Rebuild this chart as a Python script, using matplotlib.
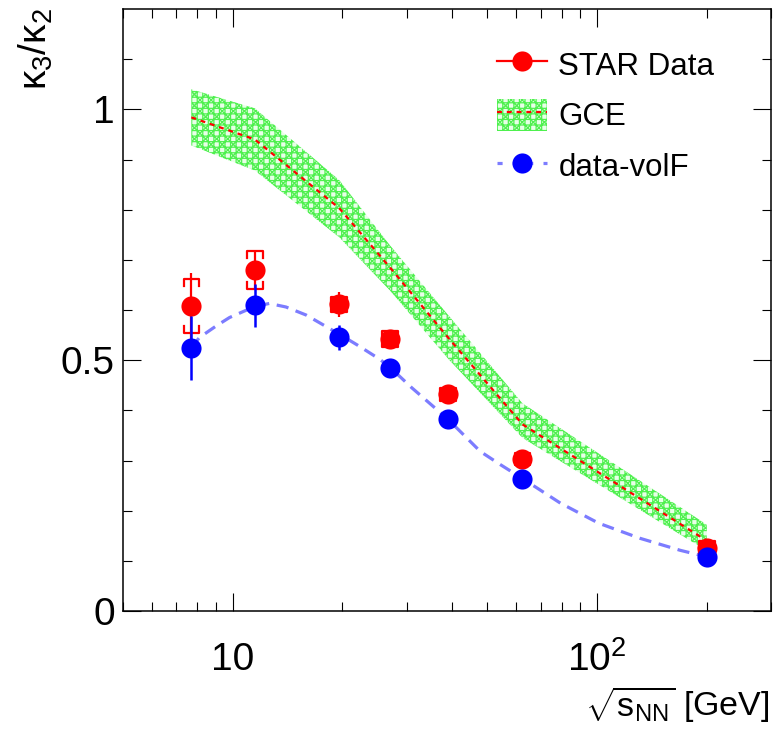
import numpy as np
import matplotlib
matplotlib.use('Agg')
import matplotlib.pyplot as plt
from matplotlib.lines import Line2D
from matplotlib.patches import Patch
from matplotlib.ticker import FixedLocator, FixedFormatter, NullFormatter

plt.rcParams['font.family'] = ['Liberation Sans', 'DejaVu Sans']
plt.rcParams['mathtext.fontset'] = 'custom'
plt.rcParams['mathtext.rm'] = 'Liberation Sans'
plt.rcParams['mathtext.it'] = 'Liberation Sans:italic'
plt.rcParams['hatch.linewidth'] = 0.9

# ---------------- data ---------------- #
energy = [7.7, 11.5, 19.6, 27, 39, 62.4, 200]

star = [0.608, 0.679, 0.611, 0.542, 0.432, 0.303, 0.125]
star_stat = [0.065, 0.040, 0.024, 0.015, 0.014, 0.012, 0.010]
star_sys = [0.053, 0.038, 0.014, 0.016, 0.013, 0.012, 0.014]

volf = [0.524, 0.609, 0.546, 0.484, 0.382, 0.263, 0.107]
volf_err = [0.064, 0.042, 0.025, 0.012, 0.010, 0.008, 0.005]

gce_mid = [0.984, 0.940, 0.803, 0.685, 0.545, 0.372, 0.140]
gce_lo = [0.928, 0.878, 0.745, 0.639, 0.503, 0.345, 0.120]
gce_hi = [1.040, 1.002, 0.859, 0.729, 0.590, 0.414, 0.172]

curve_e = [7.7, 8.1, 9.0, 9.8, 11.5, 12.6, 14.0, 15.9, 19.6, 22, 25.3, 27, 31,
           39, 47.8, 54.2, 62.4, 79.3, 101, 131, 169, 200]
curve_y = [0.525, 0.545, 0.568, 0.585, 0.607, 0.613, 0.606, 0.590, 0.552, 0.530,
           0.502, 0.486, 0.445, 0.382, 0.318, 0.292, 0.264, 0.215, 0.175, 0.145,
           0.121, 0.108]

xticks = [10, 100]
xticklabels = ['10', r'$\mathregular{10^2}$']
yticks = [0, 0.5, 1]
yticklabels = ['0', '0.5', '1']

# ---------------- figure ---------------- #
fig = plt.figure(figsize=(7.74, 7.29), dpi=100)
ax = fig.add_axes([123/774, 1 - 611/729, (771 - 123)/774, (611 - 9)/729])

green = '#4ef04e'
hatch = '+++xxx'
ax.fill_between(energy, gce_lo, gce_hi, facecolor='#e8ffe8', edgecolor=green,
                hatch=hatch, linewidth=0, zorder=1)
ax.plot(energy, gce_mid, color='red', lw=1.6, dashes=(2.2, 2.2), zorder=2)

ax.plot(curve_e, curve_y, color='#7c7cff', lw=2.3, dashes=(3.8, 2.4), zorder=3)

# STAR data: stat bars + sys brackets
e = np.array(energy)
s = np.array(star)
sy = np.array(star_sys)
ax.errorbar(e, s, yerr=star_stat, fmt='o', color='red', ms=14.5, mew=0,
            elinewidth=1.6, capsize=0, zorder=4)
hw = 1.05
leg = 0.014
for xi, yi, si in zip(e, s, sy):
    ax.plot([xi/hw, xi/hw, xi*hw, xi*hw], [yi+si-leg, yi+si, yi+si, yi+si-leg],
            color='red', lw=1.6, zorder=4)
    ax.plot([xi/hw, xi/hw, xi*hw, xi*hw], [yi-si+leg, yi-si, yi-si, yi-si+leg],
            color='red', lw=1.6, zorder=4)

ax.errorbar(energy, volf, yerr=volf_err, fmt='o', color='blue', ms=14.5, mew=0,
            elinewidth=1.8, capsize=0, zorder=5)

# ---------------- axes ---------------- #
ax.set_xscale('log')
ax.set_xlim(5, 300)
ax.set_ylim(0, 1.2)

ax.xaxis.set_major_locator(FixedLocator(xticks))
ax.xaxis.set_major_formatter(FixedFormatter(xticklabels))
minors = [m * d for d in (1, 10, 100) for m in range(2, 10)]
ax.xaxis.set_minor_locator(FixedLocator(minors))
ax.xaxis.set_minor_formatter(NullFormatter())
ax.yaxis.set_major_locator(FixedLocator(yticks))
ax.yaxis.set_major_formatter(FixedFormatter(yticklabels))
ax.yaxis.set_minor_locator(FixedLocator(np.arange(0.1, 1.2, 0.1)))

ax.tick_params(which='both', direction='in', top=True, right=True, width=0.8)
ax.tick_params(which='major', length=13)
ax.tick_params(which='minor', length=6.5)
ax.tick_params(axis='x', which='major', labelsize=28, pad=22)
ax.tick_params(axis='y', which='major', labelsize=28, pad=6)
for sp in ax.spines.values():
    sp.set_linewidth(1.1)

fig.text(770/774, 1 - 725/729, r'$\sqrt{\mathrm{s}_{\mathrm{NN}}}$ [GeV]', fontsize=24.5,
         ha='right', va='bottom')
fig.text(17/774, 1 - 8/729, r'κ$_3$/κ$_2$', fontsize=28, rotation=90,
         ha='left', va='top')

# ---------------- legend ---------------- #
h_star = Line2D([], [], color='red', marker='o', ms=14.5, mew=0, lw=1.6)
h_gce = (Patch(facecolor='#e8ffe8', edgecolor=green, hatch=hatch, linewidth=0),
         Line2D([], [], color='red', lw=1.6, dashes=(2.2, 2.2)))
h_volf = Line2D([], [], color='#7c7cff', lw=2.3, dashes=(1.6, 3.2), marker='o',
                markerfacecolor='blue', markeredgecolor='blue', ms=14.5, mew=0)
ax.legend([h_star, h_gce, h_volf], ['STAR Data', 'GCE', 'data-volF'],
          loc='upper left', bbox_to_anchor=(497/774, 1 - 48/729),
          bbox_transform=fig.transFigure, frameon=False, fontsize=22.5,
          handlelength=1.6, handleheight=1.2, handletextpad=0.36,
          labelspacing=0.55, borderpad=0, borderaxespad=0)

fig.savefig('out.png', dpi=100)
